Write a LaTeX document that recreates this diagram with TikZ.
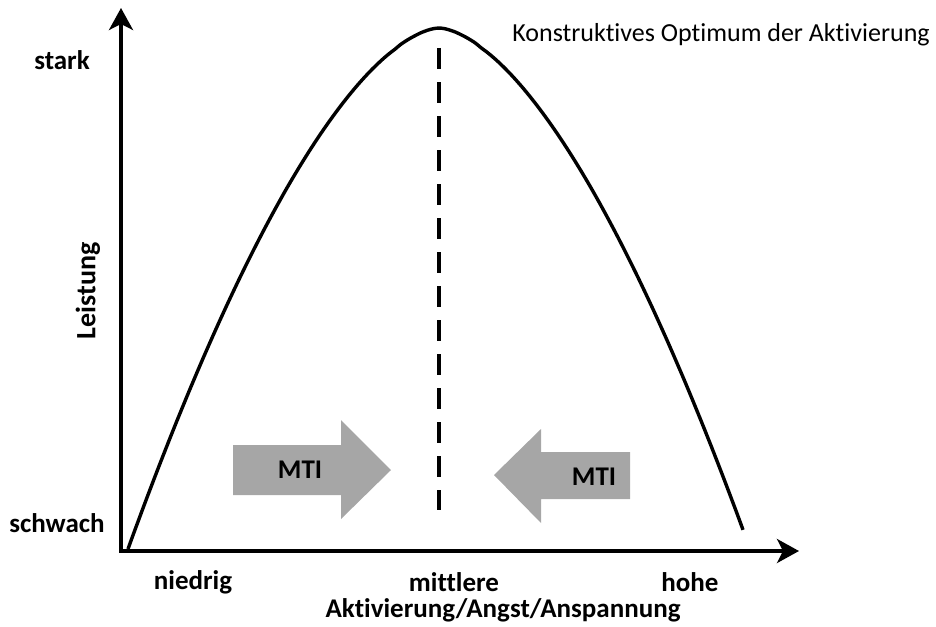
\documentclass[tikz,border=0pt]{standalone}
\usepackage{fontspec}
\setmainfont{Carlito}[Ligatures={TeX,NoCommon}]
\usetikzlibrary{arrows.meta, positioning}
\tikzset{
	x=1pt, y=-1pt, % one unit is one pixel of the reference, y runs down
	axis/.style={line width=3.6pt, -{Stealth[length=22pt, width=24pt, inset=6pt]}}, % the two axes
	curve/.style={line width=3.4pt}, % the performance curve
	optimum/.style={line width=3.8pt, dash pattern=on 21pt off 13pt}, % the dashed middle line
	mti/.style={fill=black!35}, % the grey arrows
	lbl/.style={font=\fontsize{27}{32}\selectfont\bfseries, inner sep=0pt}, % axis texts
}
\begin{document}
\begin{tikzpicture}
	\useasboundingbox (0,0) rectangle (936,626);
	\coordinate (O) at (121,551);
	\coordinate (ytop) at (121,8);
	\coordinate (xend) at (799,551);
	\draw[axis] (O) -- (ytop);
	\draw[axis] ([xshift=-2pt]O) -- (xend);
	% curve
	\draw[curve] plot[domain=-311:304, samples=123, smooth]
		({439+\x}, {28+521*pow(abs(\x)/311,1.65)});
	\coordinate (top) at (439,48);
	\coordinate (bot) at (439,510);
	\draw[optimum] (top) -- (bot);
	% MTI arrows
	\fill[mti] (233,445) -- (341,445) -- (341,420) -- (391,470) -- (341,519) -- (341,495) -- (233,495) -- cycle;
	\fill[mti] (630,452) -- (541,452) -- (541,429) -- (494,475) -- (541,523) -- (541,499) -- (630,499) -- cycle;
	\node[lbl] (mtil) at (300,470) {MTI};
	\node[lbl] (mtir) at (594,477) {MTI};
	% labels
	\node[lbl] (stark) at (62,60) {stark};
	\node[lbl] (schwach) at (57,523) {schwach};
	\node[lbl, font=\fontsize{28}{33}\selectfont\bfseries, rotate=90] (leistung) at (88,291) {Leistung};
	\node[lbl] (niedrig) at (193,582) {niedrig};
	\node[lbl] (mittlere) at (454,582) {mittlere};
	\node[lbl] (hohe) at (690,582) {hohe};
	\node[lbl] (xlabel) at (503,610) {Aktivierung/Angst/Anspannung};
	\node[font=\fontsize{26}{31}\selectfont, inner sep=0pt] (optlabel) at (721,35) {Konstruktives Optimum der Aktivierung};
\end{tikzpicture}
\end{document}
